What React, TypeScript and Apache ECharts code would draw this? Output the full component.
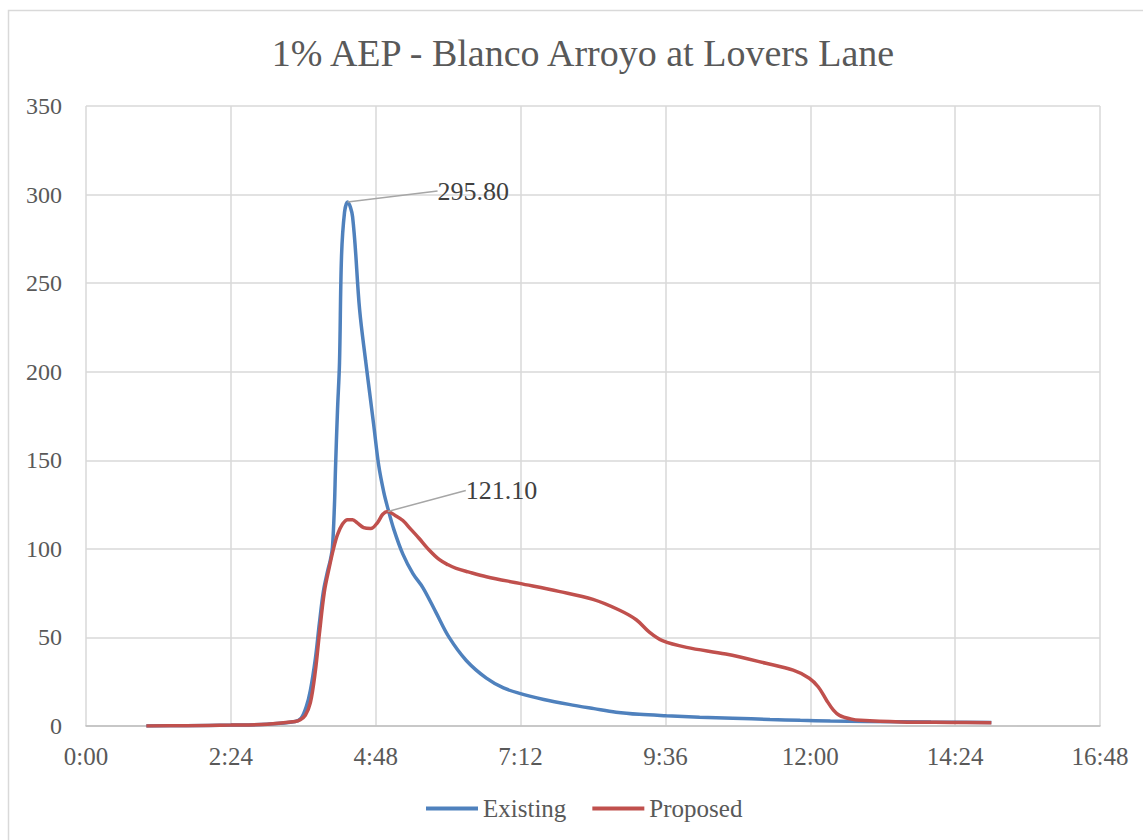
import React, { useEffect, useRef } from "react";
import * as echarts from "echarts";

// Flow hydrograph, minutes since start of storm vs. discharge
const existingMinutes = [
  60, 100, 144, 180, 208, 214, 219, 223, 228, 232, 236, 240, 243, 245, 247, 248,
  250, 252, 254, 257, 260, 265, 272, 278, 282, 286, 291, 296, 300, 306, 315, 325,
  335, 348, 361, 378, 398, 415, 431, 455, 480, 505, 527, 550, 577, 610, 643, 680,
  710, 740, 776, 840, 900,
];
const existingFlow = [
  0, 0.2, 0.5, 1, 2.5, 4.5, 11, 20, 38, 58, 76, 87, 94, 101, 125, 145,
  178, 205, 265, 290, 295.8, 287.5, 235, 206, 188, 170, 147, 132, 123, 111, 97, 86,
  78, 64, 50, 37, 27, 21.5, 18.4, 15, 12.2, 9.8, 7.8, 6.6, 5.8, 5, 4.4, 3.7,
  3.2, 2.8, 2.5, 2.2, 2,
];

const proposedMinutes = [
  60, 100, 144, 180, 208, 213, 218, 223, 228, 232, 237, 242, 246, 250, 255, 260,
  265, 270, 276, 283, 290, 295, 300, 307, 315, 323, 331, 340, 351, 360, 368, 380,
  398, 431, 470, 504, 530, 547, 560, 573, 597, 636, 676, 703, 719, 728, 736, 743,
  749, 760, 770, 810, 860, 900,
];
const proposedFlow = [
  0, 0.2, 0.5, 1, 2.5, 3.5, 6, 13, 31, 52, 76, 90, 100, 108, 114, 116.5,
  116.5, 114.5, 112, 111.5, 115, 119.5, 121.1, 119, 116, 111, 106, 100, 94, 91, 89, 87,
  84.3, 80.5, 76, 71.5, 65.5, 60, 53, 48.2, 44.4, 40.6, 35.4, 31.5, 27, 22, 14.7, 9,
  6, 4, 3.2, 2.3, 2, 1.8,
];

const seriesNames = ["Existing", "Proposed"];
const seriesColors = ["#4f81bd", "#c0504d"];
const titleText = "1% AEP - Blanco Arroyo at Lovers Lane";

const xMax = 1008; // 16:48
const xStep = 144; // 2:24
const yMax = 350;
const yStep = 50;

const FONT = "'Liberation Serif', 'DejaVu Serif', serif";

function formatClock(m: number): string {
  const h = Math.floor(m / 60);
  const mm = Math.round(m % 60);
  return `${h}:${String(mm).padStart(2, "0")}`;
}

function peakIndex(values: number[]): number {
  let best = 0;
  values.forEach((v, i) => {
    if (v > values[best]) best = i;
  });
  return best;
}

function buildSeries(
  name: string,
  color: string,
  minutes: number[],
  flow: number[],
  offset: { dx: number; dy: number }
) {
  const peak = peakIndex(flow);
  return {
    name,
    type: "line",
    smooth: 0.35,
    showSymbol: true,
    showAllSymbol: true,
    symbol: "circle",
    symbolSize: 0,
    lineStyle: { color, width: 3.5 },
    itemStyle: { color },
    data: minutes.map((m, i) => ({
      value: [m, flow[i]],
      label:
        i === peak
          ? {
              show: true,
              position: "right",
              distance: 4,
              formatter: (p: any) => Number(p.value[1]).toFixed(2),
              color: "#404040",
              fontSize: 26,
              fontFamily: FONT,
            }
          : { show: false },
    })),
    labelLine: {
      show: true,
      length2: 14,
      lineStyle: { color: "#a6a6a6", width: 1.5 },
    },
    labelLayout: (params: any) =>
      params.dataIndex === peak ? { dx: offset.dx, dy: offset.dy } : {},
    emphasis: { disabled: true },
  };
}

export default function App() {
  const ref = useRef<HTMLDivElement>(null);

  useEffect(() => {
    if (!ref.current) return;
    const chart = echarts.init(ref.current, undefined, { renderer: "svg" });
    chart.setOption({
      animation: false,
      backgroundColor: "#ffffff",
      title: {
        text: titleText,
        left: 578,
        top: 29,
        textAlign: "center",
        textStyle: {
          fontFamily: FONT,
          fontSize: 38,
          fontWeight: "normal",
          color: "#595959",
        },
      },
      graphic: [
        {
          type: "rect",
          left: 6,
          top: 8,
          shape: { width: 1200, height: 900 },
          style: { fill: "none", stroke: "#d9d9d9", lineWidth: 1.5 },
          silent: true,
        },
      ],
      legend: {
        data: seriesNames,
        left: 421,
        top: 791,
        icon: "rect",
        itemWidth: 52,
        itemHeight: 4,
        itemGap: 26,
        textStyle: { fontFamily: FONT, fontSize: 25, color: "#595959" },
      },
      grid: { left: 86, right: 43, top: 106, bottom: 114 },
      xAxis: {
        type: "value",
        min: 0,
        max: xMax,
        interval: xStep,
        axisLine: { show: true, lineStyle: { color: "#bfbfbf", width: 1.5 } },
        axisTick: { show: false },
        splitLine: { show: true, lineStyle: { color: "#d9d9d9", width: 1.5 } },
        axisLabel: {
          formatter: (v: number) => formatClock(v),
          margin: 18,
          color: "#595959",
          fontSize: 25,
          fontFamily: FONT,
        },
      },
      yAxis: {
        type: "value",
        min: 0,
        max: yMax,
        interval: yStep,
        axisLine: { show: false },
        axisTick: { show: false },
        splitLine: { show: true, lineStyle: { color: "#d9d9d9", width: 1.5 } },
        axisLabel: {
          margin: 24,
          color: "#595959",
          fontSize: 24,
          fontFamily: FONT,
        },
      },
      series: [
        buildSeries(seriesNames[0], seriesColors[0], existingMinutes, existingFlow, { dx: 86, dy: -11 }),
        buildSeries(seriesNames[1], seriesColors[1], proposedMinutes, proposedFlow, { dx: 74, dy: -21 }),
      ],
    });
    return () => chart.dispose();
  }, []);

  return (
    <div
      ref={ref}
      style={{ position: "absolute", left: 0, top: 0, width: 1143, height: 840 }}
    />
  );
}
